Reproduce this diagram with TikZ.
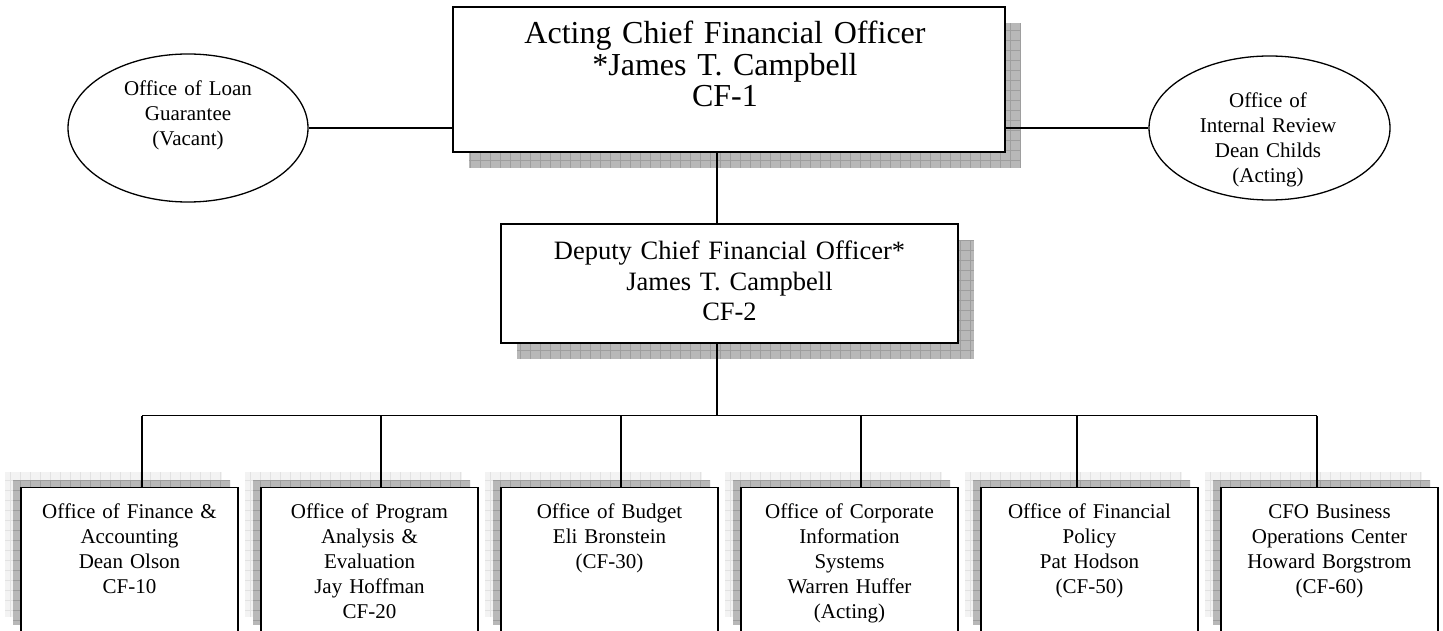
\documentclass[tikz,border=0pt]{standalone}
\usepackage{fontspec}
\setmainfont{Liberation Serif}
\usetikzlibrary{shapes.geometric,calc}
\definecolor{shdark}{RGB}{184,184,184}
\definecolor{shdarkgrid}{RGB}{158,158,158}
\definecolor{shlight}{RGB}{243,243,243}
\definecolor{shlightgrid}{RGB}{226,226,226}
\tikzset{
  orgbox/.style={draw=black, line width=1.6pt, fill=white, inner sep=0pt},
  oval/.style={ellipse, draw=black, line width=1.3pt, fill=white, inner sep=0pt},
  conn/.style={draw=black, line width=1.3pt},
  txt/.style={anchor=base, align=center, inner sep=0pt, text width=#1},
  fbig/.style={font=\fontsize{32}{31.5}\selectfont},
  fmid/.style={font=\fontsize{26.5}{30.5}\selectfont},
  fsmall/.style={font=\fontsize{21}{25}\selectfont},
}
\newcommand{\shadefill}[4]{%
  \begin{scope}
    \clip (#1) rectangle (#2);
    \fill[#3] (#1) rectangle (#2);
    \draw[#4, line width=0.7pt, step=10pt] (#1) grid (#2);
  \end{scope}}
\begin{document}
\begin{tikzpicture}[x=1pt, y=-1pt]
\useasboundingbox (0,0) rectangle (1443,631);

% ---- shadows of the upper boxes
\shadefill{469,23}{1021,168}{shdark}{shdarkgrid}
\shadefill{517,240}{974,359}{shdark}{shdarkgrid}

% ---- shadows of the lower boxes
\foreach \L in {21,261,501,741,981,1221}{
  \shadefill{\L-16,471.5}{\L+201,617}{shlight}{shlightgrid}
  \shadefill{\L-8,479.5}{\L+209,625}{shdark}{shdarkgrid}
}

% ---- upper boxes
\node[orgbox, minimum width=552pt, minimum height=145pt] (top) at (729,79.5) {};
\node[txt=540pt, fbig] (toptxt) at (725,44) {Acting Chief Financial Officer\\{}*James T. Campbell\\CF-1};

\node[orgbox, minimum width=457pt, minimum height=119pt] (dep) at (729.5,283.5) {};
\node[txt=450pt, fmid] (deptxt) at (729.5,259.5) {Deputy Chief Financial Officer*\\James T. Campbell\\CF-2};

% ---- ellipses
\node[oval, minimum width=240pt, minimum height=148pt] (loan) at (188,128) {};
\node[txt=220pt, fsmall] (loantxt) at (188,96) {Office of Loan\\Guarantee\\(Vacant)};

\node[oval, minimum width=241pt, minimum height=144pt] (review) at (1269.5,128) {};
\node[txt=220pt, fsmall] (reviewtxt) at (1268,108) {Office of\\Internal Review\\Dean Childs\\(Acting)};

% ---- lower boxes
\node[orgbox, minimum width=217pt, minimum height=145.5pt] (b1) at (129.5,560.25) {};
\node[orgbox, minimum width=217pt, minimum height=145.5pt] (b2) at (369.5,560.25) {};
\node[orgbox, minimum width=217pt, minimum height=145.5pt] (b3) at (609.5,560.25) {};
\node[orgbox, minimum width=217pt, minimum height=145.5pt] (b4) at (849.5,560.25) {};
\node[orgbox, minimum width=217pt, minimum height=145.5pt] (b5) at (1089.5,560.25) {};
\node[orgbox, minimum width=217pt, minimum height=145.5pt] (b6) at (1329.5,560.25) {};

\node[txt=212pt, fsmall] (t1) at (129.5,518) {Office of Finance \&\\Accounting\\Dean Olson\\CF-10};
\node[txt=212pt, fsmall] (t2) at (369.5,518) {Office of Program\\Analysis \&\\Evaluation\\Jay Hoffman\\CF-20};
\node[txt=212pt, fsmall] (t3) at (609.5,518) {Office of Budget\\Eli Bronstein\\(CF-30)};
\node[txt=212pt, fsmall] (t4) at (849.5,518) {Office of Corporate\\Information\\Systems\\Warren Huffer\\(Acting)};
\node[txt=212pt, fsmall] (t5) at (1089.5,518) {Office of Financial\\Policy\\Pat Hodson\\(CF-50)};
\node[txt=212pt, fsmall] (t6) at (1329.5,518) {CFO Business\\Operations Center\\Howard Borgstrom\\(CF-60)};

% ---- connectors
\coordinate (vx) at (717,0);
\coordinate (bus) at (717,415.5);
\coordinate (d1) at (142,415.5);
\coordinate (d2) at (381,415.5);
\coordinate (d3) at (621,415.5);
\coordinate (d4) at (861,415.5);
\coordinate (d5) at (1077,415.5);
\coordinate (d6) at (1317,415.5);

\draw[conn] (loan.east) -- (loan.east -| top.west);
\draw[conn] (review.west -| top.east) -- (review.west);
\draw[conn] (top.south -| vx) -- (dep.north -| vx);
\draw[conn] (dep.south -| bus) -- (bus);
\draw[conn] (d1) -- (d6);
\draw[conn] (d1) -- (d1 |- b1.north);
\draw[conn] (d2) -- (d2 |- b2.north);
\draw[conn] (d3) -- (d3 |- b3.north);
\draw[conn] (d4) -- (d4 |- b4.north);
\draw[conn] (d5) -- (d5 |- b5.north);
\draw[conn] (d6) -- (d6 |- b6.north);
\end{tikzpicture}
\end{document}
